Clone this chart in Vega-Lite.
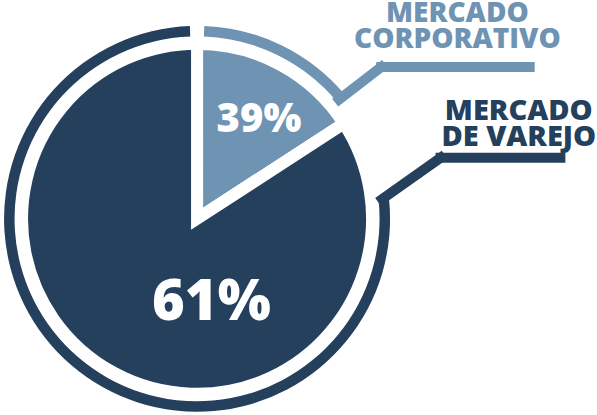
{
  "$schema": "https://vega.github.io/schema/vega-lite/v6.json",
  "width": 597,
  "height": 415,
  "autosize": {"type": "fit", "contains": "padding"},
  "padding": 0,
  "background": "white",
  "config": {"view": {"stroke": null}, "text": {"font": "Open Sans"}},
  "data": {
    "values": [
      {"mercado": "Mercado Corporativo", "rotulo": "MERCADO\nCORPORATIVO", "participacao": 0.39, "angulo": 57},
      {"mercado": "Mercado de Varejo", "rotulo": "MERCADO\nDE VAREJO", "participacao": 0.61, "angulo": 303}
    ]
  },
  "layer": [
    {
      "transform": [{"filter": "datum.mercado === 'Mercado de Varejo'"}],
      "mark": {"type": "arc", "theta": 1.4591, "theta2": 6.2458, "innerRadius": 182.5, "outerRadius": 193},
      "encoding": {
        "x": {"datum": 193, "type": "quantitative", "scale": {"domain": [0, 597], "nice": false, "zero": false}, "axis": null},
        "y": {"datum": 221, "type": "quantitative", "scale": {"domain": [0, 415], "nice": false, "zero": false, "reverse": true}, "axis": null},
        "color": {"field": "mercado", "type": "nominal", "scale": {"domain": ["Mercado Corporativo", "Mercado de Varejo"], "range": ["#6f93b3", "#24405c"]}, "legend": null}
      }
    },
    {
      "transform": [{"filter": "datum.mercado === 'Mercado Corporativo'"}],
      "mark": {"type": "arc", "theta": 0.0374, "theta2": 0.8727, "innerRadius": 182.5, "outerRadius": 193},
      "encoding": {
        "x": {"datum": 193, "type": "quantitative", "axis": null},
        "y": {"datum": 221, "type": "quantitative", "axis": null},
        "color": {"field": "mercado", "type": "nominal", "legend": null}
      }
    },
    {
      "mark": {"type": "arc", "outerRadius": 175, "stroke": "white", "strokeWidth": 12, "strokeJoin": "miter"},
      "encoding": {
        "theta": {"field": "angulo", "type": "quantitative", "stack": true},
        "x": {"datum": 193, "type": "quantitative", "axis": null},
        "y": {"datum": 221, "type": "quantitative", "axis": null},
        "color": {"field": "mercado", "type": "nominal", "legend": null}
      }
    },
    {
      "transform": [{"filter": "datum.mercado === 'Mercado Corporativo'"}],
      "mark": {"type": "rule", "strokeWidth": 10, "strokeCap": "square"},
      "encoding": {
        "x": {"datum": 336.5, "type": "quantitative", "axis": null},
        "y": {"datum": 100, "type": "quantitative", "axis": null},
        "x2": {"datum": 379},
        "y2": {"datum": 67},
        "color": {"field": "mercado", "type": "nominal", "legend": null}
      }
    },
    {
      "transform": [{"filter": "datum.mercado === 'Mercado Corporativo'"}],
      "mark": {"type": "rule", "strokeWidth": 10, "strokeCap": "square"},
      "encoding": {
        "x": {"datum": 379, "type": "quantitative", "axis": null},
        "y": {"datum": 67, "type": "quantitative", "axis": null},
        "x2": {"datum": 529},
        "y2": {"datum": 67},
        "color": {"field": "mercado", "type": "nominal", "legend": null}
      }
    },
    {
      "transform": [{"filter": "datum.mercado === 'Mercado de Varejo'"}],
      "mark": {"type": "rule", "strokeWidth": 10, "strokeCap": "square"},
      "encoding": {
        "x": {"datum": 380, "type": "quantitative", "axis": null},
        "y": {"datum": 201, "type": "quantitative", "axis": null},
        "x2": {"datum": 439},
        "y2": {"datum": 159},
        "color": {"field": "mercado", "type": "nominal", "legend": null}
      }
    },
    {
      "transform": [{"filter": "datum.mercado === 'Mercado de Varejo'"}],
      "mark": {"type": "rule", "strokeWidth": 10, "strokeCap": "square"},
      "encoding": {
        "x": {"datum": 439, "type": "quantitative", "axis": null},
        "y": {"datum": 159, "type": "quantitative", "axis": null},
        "x2": {"datum": 560},
        "y2": {"datum": 159},
        "color": {"field": "mercado", "type": "nominal", "legend": null}
      }
    },
    {
      "transform": [{"filter": "datum.mercado === 'Mercado Corporativo'"}],
      "mark": {"type": "text", "fontSize": 40, "fontWeight": 800, "color": "white", "align": "center", "baseline": "alphabetic"},
      "encoding": {
        "x": {"datum": 255.5, "type": "quantitative", "axis": null},
        "y": {"datum": 132.5, "type": "quantitative", "axis": null},
        "text": {"field": "participacao", "type": "quantitative", "format": ".0%"}
      }
    },
    {
      "transform": [{"filter": "datum.mercado === 'Mercado de Varejo'"}],
      "mark": {"type": "text", "fontSize": 56, "fontWeight": 800, "color": "white", "align": "center", "baseline": "alphabetic"},
      "encoding": {
        "x": {"datum": 207.5, "type": "quantitative", "axis": null},
        "y": {"datum": 323.5, "type": "quantitative", "axis": null},
        "text": {"field": "participacao", "type": "quantitative", "format": ".0%"}
      }
    },
    {
      "transform": [{"filter": "datum.mercado === 'Mercado Corporativo'"}],
      "mark": {"type": "text", "fontSize": 28, "fontWeight": 800, "align": "center", "baseline": "alphabetic", "lineBreak": "\n", "lineHeight": 26},
      "encoding": {
        "x": {"datum": 456, "type": "quantitative", "axis": null},
        "y": {"datum": 21, "type": "quantitative", "axis": null},
        "text": {"field": "rotulo", "type": "nominal"},
        "color": {"field": "mercado", "type": "nominal", "legend": null}
      }
    },
    {
      "transform": [{"filter": "datum.mercado === 'Mercado de Varejo'"}],
      "mark": {"type": "text", "fontSize": 29, "fontWeight": 800, "align": "center", "baseline": "alphabetic", "lineBreak": "\n", "lineHeight": 26},
      "encoding": {
        "x": {"datum": 518, "type": "quantitative", "axis": null},
        "y": {"datum": 121, "type": "quantitative", "axis": null},
        "text": {"field": "rotulo", "type": "nominal"},
        "color": {"field": "mercado", "type": "nominal", "legend": null}
      }
    }
  ]
}
